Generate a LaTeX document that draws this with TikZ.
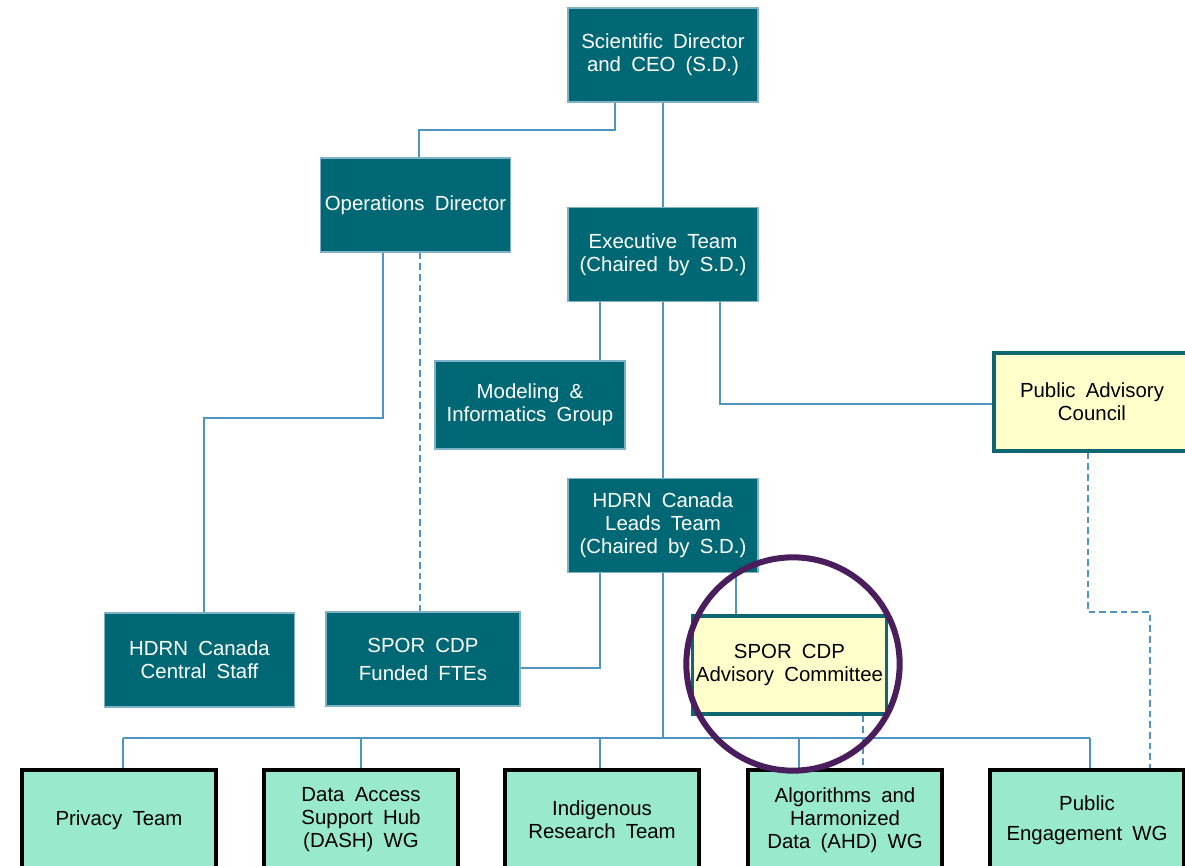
\documentclass[tikz,border=0pt]{standalone}
\usepackage{fontspec}
\setmainfont{Liberation Sans}[WordSpace=1.8]
\definecolor{tealfill}{HTML}{006874}
\definecolor{tealedge}{HTML}{7FB2C8}
\definecolor{yelfill}{HTML}{FFFFCC}
\definecolor{yeledge}{HTML}{0E6670}
\definecolor{mint}{HTML}{99E9CD}
\definecolor{conn}{HTML}{4E95BF}
\definecolor{purp}{HTML}{4A1E5C}
\begin{document}
\begin{tikzpicture}[x=0.75pt,y=-0.75pt,
  every node/.style={font=\fontsize{15.3}{17.25}\selectfont, align=center, inner sep=0pt},
  tbox/.style={draw=tealedge, line width=0.8pt, fill=tealfill, text=white},
  ybox/.style={draw=yeledge, line width=2.4pt, fill=yelfill, text=black},
  mbox/.style={draw=black, line width=2.6pt, fill=mint, text=black, minimum width=145.5pt, minimum height=75pt},
  con/.style={draw=conn, line width=0.9pt},
  dcon/.style={draw=conn, line width=0.9pt, dash pattern=on 5pt off 3pt}]
\useasboundingbox (0,0) rectangle (1185,865);
\fill[white] (0,0) rectangle (1185,865);
% teal boxes
\node[tbox, minimum width=142.5pt, minimum height=70.5pt] (SD) at (663,55) {Scientific Director\\and CEO (S.D.)};
\node[tbox, minimum width=143pt, minimum height=70.5pt] (OD) at (415.5,205) {Operations Director};
\node[tbox, minimum width=142.5pt, minimum height=70pt] (ET) at (663,254.5) {Executive Team\\(Chaired by S.D.)};
\node[tbox, minimum width=142.5pt, minimum height=66pt] (MI) at (530,405) {Modeling \&\\Informatics Group};
\node[tbox, minimum width=142.5pt, minimum height=70pt] (LT) at (663,525.5) {HDRN Canada\\Leads Team\\(Chaired by S.D.)};
\node[tbox, minimum width=143pt, minimum height=70.5pt] (CS) at (199.5,660) {HDRN Canada\\Central Staff};
\node[tbox, minimum width=145.5pt, minimum height=70.5pt] (FT) at (423,659) {SPOR CDP\\[3.75pt]Funded FTEs};
% yellow boxes
\node[ybox, minimum width=147pt, minimum height=73.5pt] (PAC) at (1092,402) {Public Advisory\\Council};
\node[ybox, minimum width=146pt, minimum height=73.5pt] (AC) at (789.5,665) {SPOR CDP\\Advisory Committee};
% bottom boxes
\node[mbox] (PT) at (119,820) {Privacy Team};
\node[mbox] (DA) at (361,820) {Data Access\\Support Hub\\(DASH) WG};
\node[mbox] (IR) at (602,820) {Indigenous\\Research Team};
\node[mbox] (AH) at (845,820) {Algorithms and\\Harmonized\\Data (AHD) WG};
\node[mbox] (PE) at (1087,820) {Public\\[5pt]Engagement WG};
% connectors
\coordinate (sdL) at (615,130);
\draw[con] (SD.south -| sdL) -- (sdL) -| (OD.north -| 419,0);
\draw[con] (SD.south) -- (ET.north);
\coordinate (odL) at (383,418);
\draw[con] (OD.south -| odL) -- (odL) -| (CS.north -| 204,0);
\draw[dcon] (OD.south -| 420,0) -- (FT.north -| 420,0);
\draw[con] (ET.south -| 600,0) -- (MI.north -| 600,0);
\draw[con] (ET.south) -- (LT.north);
\coordinate (etR) at (720,404);
\draw[con] (ET.south -| etR) -- (etR) -- (PAC.west |- etR);
\coordinate (ltF) at (600,668);
\draw[con] (LT.south -| ltF) -- (ltF) -- (FT.east |- ltF);
\draw[con] (LT.south -| 736,0) -- (AC.north -| 736,0);
\coordinate (busL) at (123,738);
\coordinate (busR) at (1090,738);
\draw[con] (LT.south) -- (LT.south |- busL);
\draw[con] (busL) -- (busR);
\draw[con] (busL) -- (PT.north -| busL);
\draw[con] (DA.north |- busL) -- (DA.north);
\draw[con] (600,738) -- (IR.north -| 600,0);
\draw[con] (799,738) -- (AH.north -| 799,0);
\draw[con] (busR) -- (PE.north -| busR);
\draw[dcon] (AC.south -| 863,0) -- (AH.north -| 863,0);
\coordinate (pacB) at (1088,612);
\draw[dcon] (PAC.south -| pacB) -- (pacB) -| (PE.north -| 1150,0);
% highlight circle
\draw[purp, line width=4.5pt] (793,664) circle[radius=80pt];
\end{tikzpicture}
\end{document}
